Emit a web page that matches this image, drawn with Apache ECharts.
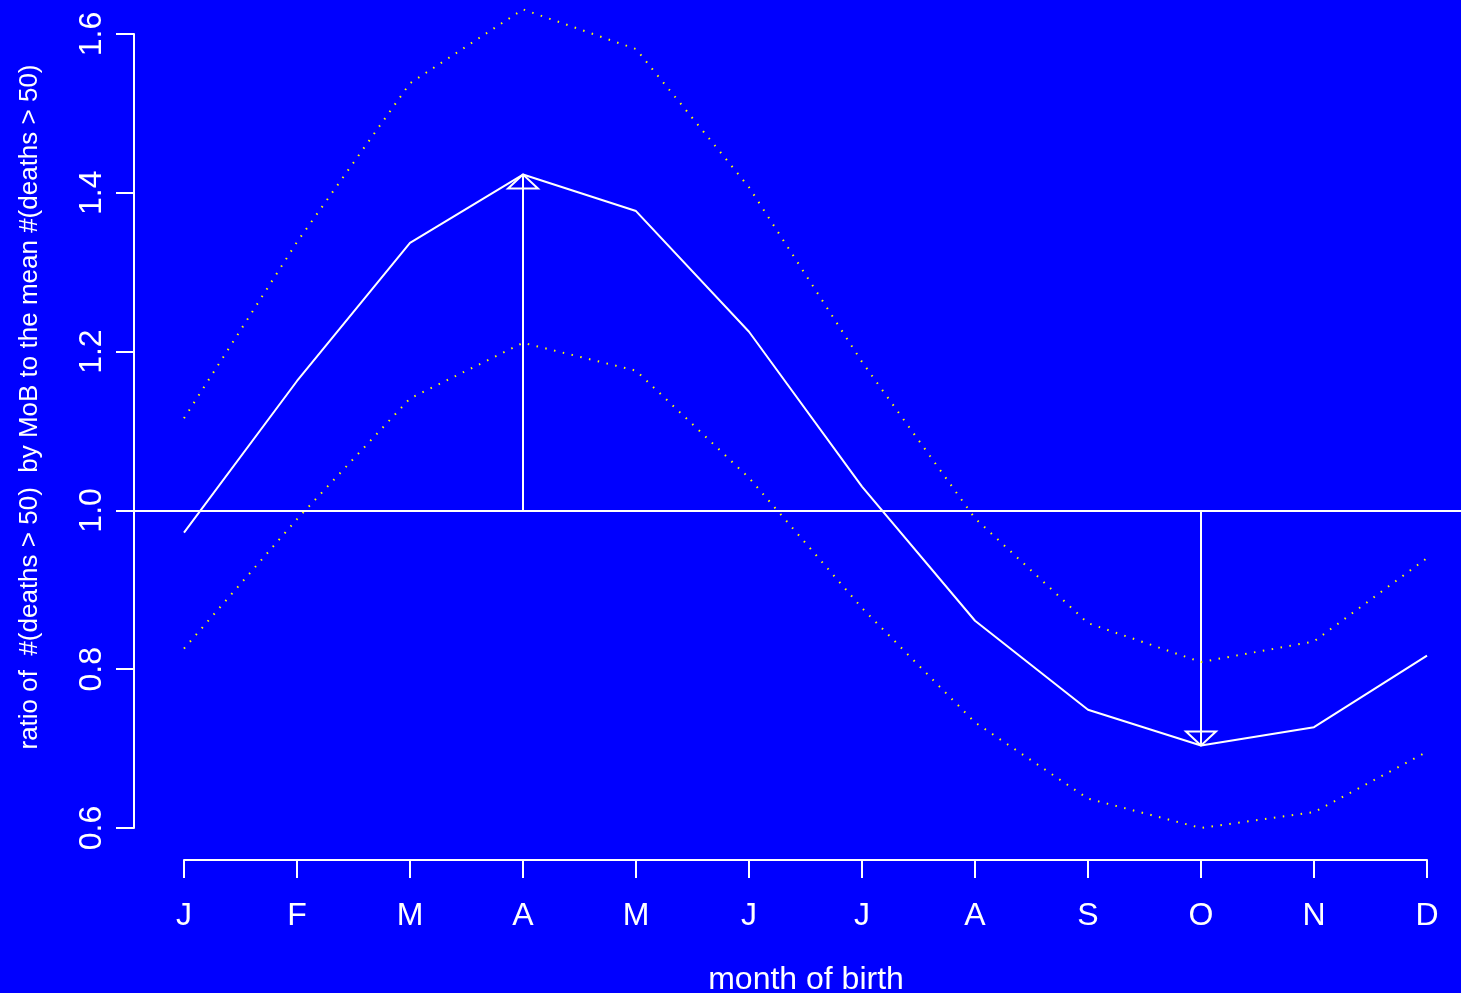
<!DOCTYPE html>
<html>
<head>
<meta charset="utf-8">
<script src="https://cdn.jsdelivr.net/npm/echarts@6/dist/echarts.min.js"></script>
<style>
  html, body { margin: 0; padding: 0; background: #0000ff; }
  #chart { width: 1461px; height: 993px; }
</style>
</head>
<body>
<div id="chart"></div>
<script>
// Month-of-birth ratios with upper/lower bands
const months = ['J', 'F', 'M', 'A', 'M', 'J', 'J', 'A', 'S', 'O', 'N', 'D'];
const ratio = [0.972, 1.163, 1.337, 1.423, 1.377, 1.225, 1.030, 0.861, 0.749, 0.704, 0.727, 0.817];
const upper = [1.116, 1.338, 1.538, 1.631, 1.581, 1.407, 1.187, 0.990, 0.858, 0.809, 0.835, 0.940];
const lower = [0.826, 0.989, 1.141, 1.211, 1.176, 1.041, 0.877, 0.733, 0.637, 0.600, 0.620, 0.696];
const yTicks = [0.6, 0.8, 1.0, 1.2, 1.4, 1.6];
const baseline = 1.0;

const FONT = '"Liberation Sans", Arial, Helvetica, sans-serif';
const WHITE = '#ffffff';
const YELLOW = '#ffff00';

// arrows from the reference level to the peak and the trough month
const peakIdx = ratio.indexOf(Math.max(...ratio));
const troughIdx = ratio.indexOf(Math.min(...ratio));
const arrows = [[peakIdx, baseline, ratio[peakIdx]], [troughIdx, baseline, ratio[troughIdx]]];

const toPairs = arr => arr.map((v, i) => [i, v]);

const chart = echarts.init(document.getElementById('chart'), null, { renderer: 'canvas' });

const option = {
  backgroundColor: '#0000ff',
  animation: false,
  grid: [
    // plotting region (extends a little past the first/last month, as in R)
    { left: 134, right: 0, top: 34, height: 794 },
    // strip that only carries the month axis
    { left: 184, right: 34, top: 800, height: 60 }
  ],
  xAxis: [
    {
      gridIndex: 0, type: 'value', min: -50 / 113, max: 1277 / 113,
      show: false
    },
    {
      gridIndex: 1, type: 'value', min: 0, max: months.length - 1, interval: 1,
      position: 'bottom',
      axisLine: { show: true, onZero: false, lineStyle: { color: WHITE, width: 2 } },
      axisTick: { show: true, length: 18, inside: false, lineStyle: { color: WHITE, width: 2 } },
      splitLine: { show: false },
      axisLabel: {
        color: WHITE, fontSize: 32, fontFamily: FONT, margin: 40,
        formatter: v => months[Math.round(v)]
      }
    }
  ],
  yAxis: [
    {
      gridIndex: 0, type: 'value', min: yTicks[0], max: yTicks[yTicks.length - 1], interval: 0.2,
      position: 'left',
      axisLine: { show: true, onZero: false, lineStyle: { color: WHITE, width: 2 } },
      axisTick: { show: true, length: 18, inside: false, lineStyle: { color: WHITE, width: 2 } },
      splitLine: { show: false },
      axisLabel: {
        color: WHITE, fontSize: 32, fontFamily: FONT, rotate: 90, margin: 26,
        formatter: v => v.toFixed(1)
      }
    },
    { gridIndex: 1, type: 'value', min: 0, max: 1, show: false }
  ],
  graphic: [
    {
      type: 'text', x: 30, y: 407, rotation: Math.PI / 2,
      style: {
        text: 'ratio of  #(deaths > 50)  by MoB to the mean #(deaths > 50)',
        fill: WHITE, font: '26px ' + FONT, align: 'center', verticalAlign: 'middle'
      }
    },
    {
      type: 'text', x: 806, y: 980,
      style: {
        text: 'month of birth',
        fill: WHITE, font: '32px ' + FONT, align: 'center', verticalAlign: 'middle'
      }
    }
  ],
  series: [
    {
      name: 'upper', type: 'line', xAxisIndex: 0, yAxisIndex: 0, clip: false,
      data: toPairs(upper), symbol: 'none',
      lineStyle: { color: YELLOW, width: 2, type: [1.5, 7.5], cap: 'butt' }
    },
    {
      name: 'lower', type: 'line', xAxisIndex: 0, yAxisIndex: 0, clip: false,
      data: toPairs(lower), symbol: 'none',
      lineStyle: { color: YELLOW, width: 2, type: [1.5, 7.5], cap: 'butt' }
    },
    {
      name: 'ratio', type: 'line', xAxisIndex: 0, yAxisIndex: 0, clip: false,
      data: toPairs(ratio), symbol: 'none',
      lineStyle: { color: WHITE, width: 2 },
      markLine: {
        silent: true, symbol: ['none', 'none'],
        label: { show: false },
        lineStyle: { color: WHITE, width: 2, type: 'solid' },
        data: [{ yAxis: baseline }]
      }
    },
    {
      name: 'arrows', type: 'custom', xAxisIndex: 0, yAxisIndex: 0,
      data: arrows,
      renderItem: (params, api) => {
        const x = api.value(0);
        const from = api.coord([x, api.value(1)]);
        const to = api.coord([x, api.value(2)]);
        const dir = to[1] < from[1] ? 1 : -1; // 1: pointing up
        const headLen = 14, headHalf = 15;
        const baseY = to[1] + dir * headLen;
        return {
          type: 'group',
          children: [
            {
              type: 'line',
              shape: { x1: from[0], y1: from[1], x2: to[0], y2: to[1] },
              style: { stroke: WHITE, lineWidth: 2 }
            },
            {
              type: 'polygon',
              shape: { points: [[to[0], to[1]], [to[0] - headHalf, baseY], [to[0] + headHalf, baseY]] },
              style: { stroke: WHITE, fill: 'none', lineWidth: 2 }
            }
          ]
        };
      }
    }
  ]
};

chart.setOption(option);
</script>
</body>
</html>
